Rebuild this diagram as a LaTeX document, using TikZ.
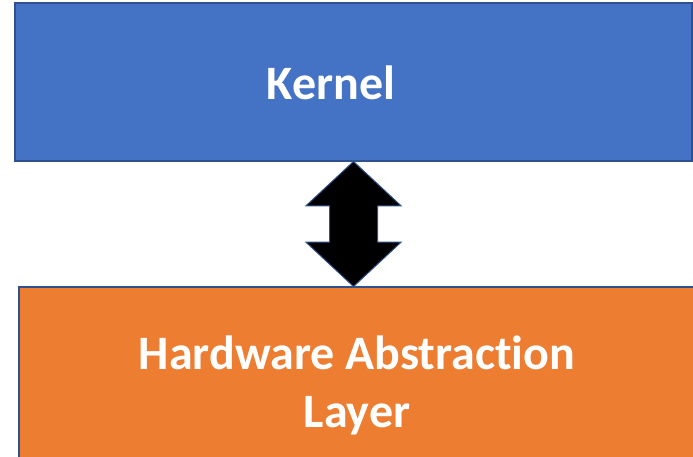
\documentclass[tikz,border=0pt]{standalone}
\usepackage{fontspec}
\setmainfont{Carlito}[Ligatures=NoCommon]
\usetikzlibrary{shapes.arrows, positioning, calc}
\definecolor{kernelblue}{HTML}{4472C4}
\definecolor{halorange}{HTML}{ED7D31}
\definecolor{edgeblue}{HTML}{2F528F}

\begin{document}
\begin{tikzpicture}[
        x=1pt, y=-1pt,
        % Style for the two layer boxes
        layer/.style={
            rectangle, draw=edgeblue, line width=2pt,
            inner sep=0pt, anchor=north west
        },
        % Style for the white box titles
        layertext/.style={
            text=white, font=\fontsize{48}{58}\selectfont\bfseries,
            align=center, anchor=base
        },
        % Style for the two-headed connector
        link/.style={
            double arrow, fill=black, draw=edgeblue, line width=1pt,
            shape border rotate=90, inner sep=23.5pt,
            minimum height=125pt, minimum width=94pt,
            double arrow head extend=23.5pt, double arrow tip angle=94
        }
    ]

        \useasboundingbox (0,0) rectangle (693,457);
        \clip (0,0) rectangle (693,457);

        % 1. Layer boxes
        \node[layer, fill=kernelblue, minimum width=677pt, minimum height=158pt] (kernel) at (14,2) {};
        \node[layer, fill=halorange, minimum width=678pt, minimum height=172pt] (hal) at (18,286) {};

        % 2. Titles (base = last line)
        \node[layertext] (kerneltitle) at (331,100) {Kernel};
        \node[layertext] (haltitle) at (357,427) {Hardware Abstraction\\Layer};

        % 3. Connector between the layers, under the kernel's centre
        \node[link] (kernelhal) at ($(kernel.south)!0.5!(kernel.south |- hal.north)$) {};

    \end{tikzpicture}
\end{document}
